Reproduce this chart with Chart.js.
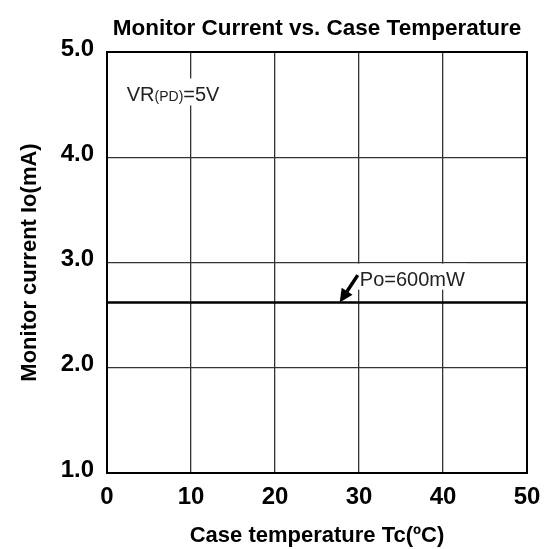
<!DOCTYPE html>
<html>
<head>
<meta charset="utf-8">
<script src="https://cdn.jsdelivr.net/npm/chart.js@4.4.1/dist/chart.umd.min.js"></script>
<style>
  html, body { margin: 0; padding: 0; background: #fff; }
  #wrap { width: 557px; height: 549px; }
</style>
</head>
<body>
<div id="wrap"><canvas id="monitorChart" width="557" height="549"></canvas></div>
<script>
// values
const caseTemps = [0, 50];
const monitorCurrent = [2.62, 2.62];
const xTicks = [0, 10, 20, 30, 40, 50];
const yTicks = [1.0, 2.0, 3.0, 4.0, 5.0];

// annotation anchors in data units
const condLabel = { x: 2.35, y: 4.53, main: 'VR', sub: '(PD)', tail: '=5V' };
const powerLabel = { x: 30.1, y: 2.78, text: 'Po=600mW' };
const powerArrow = { fromX: 29.85, fromY: 2.88, toX: 27.7, toY: 2.62 };

const FONT = '"Liberation Sans", Arial, sans-serif';

const framePlugin = {
  id: 'frame',
  afterDraw(chart) {
    const { ctx, chartArea: a, scales } = chart;
    const xs = scales.x, ys = scales.y;
    ctx.save();
    ctx.strokeStyle = '#000';
    ctx.lineWidth = 2;
    ctx.strokeRect(a.left, a.top, a.right - a.left, a.bottom - a.top);

    // VR(PD)=5V label with white box
    ctx.textBaseline = 'alphabetic';
    ctx.textAlign = 'left';
    let px = xs.getPixelForValue(condLabel.x);
    let py = ys.getPixelForValue(condLabel.y);
    ctx.font = '20px ' + FONT;
    const w1 = ctx.measureText(condLabel.main).width;
    const w3 = ctx.measureText(condLabel.tail).width;
    ctx.font = '14px ' + FONT;
    const w2 = ctx.measureText(condLabel.sub).width;
    ctx.fillStyle = '#fff';
    ctx.fillRect(px - 3, py - 23, w1 + w2 + w3 + 6, 27);
    ctx.fillStyle = '#222';
    ctx.font = '20px ' + FONT;
    ctx.fillText(condLabel.main, px, py);
    ctx.font = '14px ' + FONT;
    ctx.fillText(condLabel.sub, px + w1, py);
    ctx.font = '20px ' + FONT;
    ctx.fillText(condLabel.tail, px + w1 + w2, py);

    // Po=600mW label
    px = xs.getPixelForValue(powerLabel.x);
    py = ys.getPixelForValue(powerLabel.y);
    ctx.font = '20px ' + FONT;
    const wp = ctx.measureText(powerLabel.text).width;
    ctx.fillStyle = '#fff';
    ctx.fillRect(px - 2, py - 22, wp + 4, 26);
    ctx.fillStyle = '#222';
    ctx.fillText(powerLabel.text, px, py);

    // arrow
    const x1 = xs.getPixelForValue(powerArrow.fromX), y1 = ys.getPixelForValue(powerArrow.fromY);
    const x2 = xs.getPixelForValue(powerArrow.toX), y2 = ys.getPixelForValue(powerArrow.toY);
    const ang = Math.atan2(y2 - y1, x2 - x1);
    const head = 15;
    ctx.strokeStyle = '#000';
    ctx.lineWidth = 3.5;
    ctx.beginPath();
    ctx.moveTo(x1, y1);
    ctx.lineTo(x2 - Math.cos(ang) * head * 0.7, y2 - Math.sin(ang) * head * 0.7);
    ctx.stroke();
    ctx.fillStyle = '#000';
    ctx.beginPath();
    ctx.moveTo(x2, y2);
    ctx.lineTo(x2 - Math.cos(ang - 0.45) * head, y2 - Math.sin(ang - 0.45) * head);
    ctx.lineTo(x2 - Math.cos(ang + 0.45) * head, y2 - Math.sin(ang + 0.45) * head);
    ctx.closePath();
    ctx.fill();
    ctx.restore();
  }
};

new Chart(document.getElementById('monitorChart').getContext('2d'), {
  type: 'line',
  data: {
    datasets: [{
      label: 'Po=600mW',
      data: caseTemps.map((t, i) => ({ x: t, y: monitorCurrent[i] })),
      borderColor: '#000',
      borderWidth: 2.5,
      pointRadius: 0,
      tension: 0
    }]
  },
  options: {
    responsive: false,
    animation: false,
    layout: { padding: { left: 0, right: 30, top: 0, bottom: 0 } },
    plugins: {
      legend: { display: false },
      tooltip: { enabled: false },
      title: {
        display: true,
        text: 'Monitor Current vs. Case Temperature',
        fullSize: false,
        color: '#000',
        font: { family: FONT, size: 22.5, weight: 'bold' },
        padding: { top: 15, bottom: 10 }
      }
    },
    scales: {
      x: {
        type: 'linear',
        min: 0,
        max: 50,
        afterBuildTicks: s => { s.ticks = xTicks.map(v => ({ value: v })); },
        afterFit: s => { s.height = 76; },
        grid: { color: '#333', lineWidth: 1.3, drawTicks: false },
        border: { display: false },
        ticks: {
          color: '#000',
          padding: 10,
          maxRotation: 0,
          font: { family: FONT, size: 24, weight: 'bold' }
        },
        title: {
          display: true,
          text: 'Case temperature Tc(ºC)',
          color: '#000',
          font: { family: FONT, size: 22, weight: 'bold' },
          padding: { top: 0, bottom: 0 }
        }
      },
      y: {
        type: 'linear',
        min: 1,
        max: 5,
        afterBuildTicks: s => { s.ticks = yTicks.map(v => ({ value: v })); },
        afterFit: s => { s.width = 107; },
        grid: { color: '#333', lineWidth: 1.3, drawTicks: false },
        border: { display: false },
        ticks: {
          color: '#000',
          padding: 13,
          labelOffset: -3,
          callback: v => v.toFixed(1),
          font: { family: FONT, size: 24, weight: 'bold' }
        },
        title: {
          display: true,
          text: 'Monitor current Io(mA)',
          color: '#000',
          font: { family: FONT, size: 22, weight: 'bold' },
          padding: { top: 17, bottom: 0 }
        }
      }
    }
  },
  plugins: [framePlugin]
});
</script>
</body>
</html>
